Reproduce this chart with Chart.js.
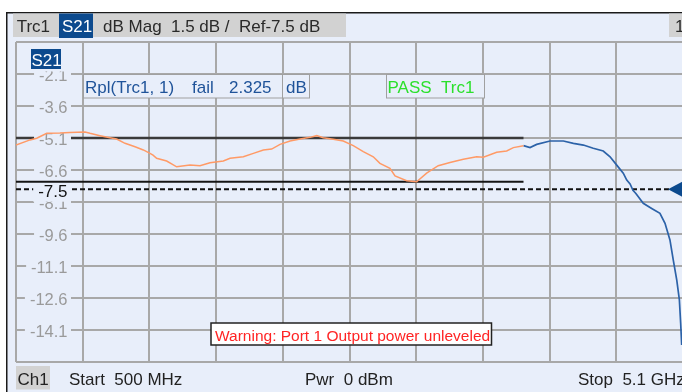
<!DOCTYPE html>
<html>
<head>
<meta charset="utf-8">
<script src="https://cdn.jsdelivr.net/npm/chart.js@4/dist/chart.umd.min.js"></script>
<style>
  html, body { margin: 0; padding: 0; background: #fff; overflow: hidden; }
  #wrap { width: 682px; height: 392px; overflow: hidden; }
  canvas { display: block; }
</style>
</head>
<body>
<div id="wrap"><canvas id="c" width="700" height="392"></canvas></div>
<script>
// S21 trace, dB Mag, 500 MHz .. 5.1 GHz. Inside the ripple range (to 4 GHz) the trace is orange.
const rippleFreqMHz = [500, 597, 643, 712, 803, 872, 976, 1010, 1079, 1148, 1194, 1252, 1321, 1378, 1424, 1445, 1470, 1539, 1608, 1700, 1769, 1838, 1930, 1976, 2068, 2137, 2206, 2263, 2321, 2390, 2459, 2528, 2574, 2619, 2688, 2757, 2826, 2895, 2964, 3010, 3079, 3114, 3194, 3263, 3332, 3412, 3493, 3585, 3677, 3723, 3815, 3884, 3930, 4000];
const rippleDb = [-5.43, -5.19, -5.11, -4.88, -4.87, -4.84, -4.82, -4.88, -4.99, -5.09, -5.15, -5.35, -5.51, -5.66, -5.82, -5.90, -6.05, -6.18, -6.45, -6.37, -6.40, -6.26, -6.18, -6.05, -5.98, -5.82, -5.66, -5.62, -5.40, -5.24, -5.15, -5.07, -4.99, -5.09, -5.16, -5.24, -5.46, -5.74, -5.98, -6.29, -6.52, -6.88, -7.10, -7.15, -6.75, -6.40, -6.25, -6.10, -5.98, -6.00, -5.77, -5.71, -5.55, -5.46];
const outFreqMHz = [4000, 4045, 4091, 4183, 4275, 4344, 4413, 4481, 4550, 4597, 4643, 4688, 4712, 4735, 4755, 4775, 4826, 4884, 4941, 4976, 5010, 5033, 5057, 5075, 5084, 5091];
const outDb = [-5.46, -5.55, -5.40, -5.24, -5.24, -5.35, -5.43, -5.58, -5.71, -5.98, -6.37, -6.75, -7.07, -7.25, -7.55, -7.70, -8.16, -8.40, -8.63, -9.10, -9.88, -10.82, -11.76, -12.69, -13.79, -14.80];

// Limit lines over the ripple range, and the reference level
const limitFreqMHz = [500, 4000];
const upperLimitDb = -5.1;
const lowerLimitDb = -7.15;
const refLevelDb = -7.5;
const sweepMHz = [500, 5100];

// Grid divisions: 460 MHz / div and 1.5 dB / div
const xGridMHz = [500, 960, 1420, 1880, 2340, 2800, 3260, 3720, 4180, 4640, 5100];
const yGridDb = [-0.6, -2.1, -3.6, -5.1, -6.6, -8.1, -9.6, -11.1, -12.6, -14.1, -15.6];
const yTickValues = [-2.1, -3.6, -5.1, -6.6, -8.1, -9.6, -11.1, -12.6, -14.1];
const yTickLabels = ['-2.1', '-3.6', '-5.1', '-6.6', '-8.1', '-9.6', '-11.1', '-12.6', '-14.1'];

// Annotation texts
const headerParts = ['Trc1', 'S21', 'dB Mag', '1.5 dB /', 'Ref-7.5 dB'];
const rippleParts = ['Rpl(Trc1, 1)', 'fail', '2.325', 'dB'];
const passText = 'PASS  Trc1';
const warningText = 'Warning: Port 1 Output power unleveled';
const footerParts = ['Ch1', 'Start  500 MHz', 'Pwr  0 dBm', 'Stop  5.1 GHz'];

const BG = '#E8EEFA';
const GRID = '#A8A8A8';
const NAVY = '#0C4A8E';
const FONT = '"Liberation Sans", Arial, sans-serif';

const pts = (xs, ys) => xs.map((x, i) => ({ x, y: Array.isArray(ys) ? ys[i] : ys }));

function font(px) { return px + 'px ' + FONT; }

function drawAxisLabels(chart) {
  const c = chart.ctx, ys = chart.scales.y;
  const right = 67.5;
  c.save();
  c.textAlign = 'right';
  c.textBaseline = 'alphabetic';
  c.font = font(16.5);
  yTickValues.forEach((v, i) => {
    const py = ys.getPixelForValue(v);
    const w = c.measureText(yTickLabels[i]).width;
    c.fillStyle = BG;
    c.fillRect(right - w - 5, py - 4, w + 8.5, 8);
    c.fillStyle = '#9A9A9A';
    c.fillText(yTickLabels[i], right, py + 6.5);
  });
  // reference level value, black, over the dashed line
  const pr = ys.getPixelForValue(refLevelDb);
  c.font = font(17);
  const lbl = refLevelDb.toFixed(1);
  const w = c.measureText(lbl).width;
  c.fillStyle = BG;
  c.fillRect(right - w - 5, pr - 5, w + 8.5, 17.5);
  c.fillStyle = '#111';
  c.fillText(lbl, right, pr + 7.5);
  // trace name tag in the top-left corner of the grid
  c.fillStyle = BG;
  c.fillRect(26, 44, 47, 27.5);
  c.fillStyle = NAVY;
  c.fillRect(31, 49, 30, 20);
  c.fillStyle = '#fff';
  c.textAlign = 'left';
  c.fillText(headerParts[1], 31.5, 65.5);
  c.restore();
}

const vnaPanel = {
  id: 'vnaPanel',
  beforeDraw(chart) {
    const c = chart.ctx, W = chart.width, H = chart.height;
    c.save();
    c.fillStyle = '#fff';
    c.fillRect(0, 0, W, H);
    c.fillStyle = BG;
    c.fillRect(6, 12, W - 6, H - 12);
    c.strokeStyle = '#1a1a1a';
    c.lineWidth = 1.5;
    c.beginPath();
    c.moveTo(6.75, H); c.lineTo(6.75, 12.75); c.lineTo(W, 12.75);
    c.stroke();
    // header bar
    c.fillStyle = '#D2D2D2';
    c.fillRect(13, 13.5, 333, 23.5);
    c.fillRect(669, 13.5, 40, 23.5);
    c.fillStyle = NAVY;
    c.fillRect(59, 13.5, 34, 24.5);
    c.font = font(17);
    c.textBaseline = 'alphabetic';
    c.textAlign = 'left';
    c.fillStyle = '#2a2a2a';
    c.fillText(headerParts[0], 16.7, 31.5);
    c.fillText(headerParts[2], 103, 31.5);
    c.fillText(headerParts[3], 171, 31.5);
    c.fillText(headerParts[4], 239, 31.5);
    c.fillText('1', 675, 31.5);
    c.fillStyle = '#fff';
    c.fillText(headerParts[1], 62, 31.5);
    c.restore();
  },
  afterDatasetDraw(chart, args) {
    // tick values go above the limit and reference lines but under the trace
    if (args.index === 2) drawAxisLabels(chart);
  },
  afterDatasetsDraw(chart) {
    const c = chart.ctx, ys = chart.scales.y, area = chart.chartArea;
    c.save();
    c.textBaseline = 'alphabetic';
    c.textAlign = 'left';
    // ripple readout
    c.fillStyle = BG;
    c.fillRect(83.5, 74.5, 226, 23.5);
    c.strokeStyle = '#A0A0A0';
    c.lineWidth = 1;
    c.strokeRect(83.5, 74.5, 226, 23.5);
    c.beginPath(); c.moveTo(282.5, 74.5); c.lineTo(282.5, 98); c.stroke();
    c.font = font(17);
    c.fillStyle = '#1F5399';
    c.fillText(rippleParts[0], 85, 93);
    c.fillText(rippleParts[1], 192, 93);
    c.fillText(rippleParts[2], 229, 93);
    c.fillText(rippleParts[3], 286, 93);
    // limit check result
    c.fillStyle = BG;
    c.fillRect(386.5, 74.5, 98, 23.5);
    c.strokeRect(386.5, 74.5, 98, 23.5);
    c.fillStyle = '#2CE02C';
    c.fillText(passText, 387.5, 93.3);
    // warning
    c.fillStyle = '#fff';
    c.fillRect(211, 323, 280.5, 22);
    c.strokeStyle = '#222';
    c.lineWidth = 1.5;
    c.strokeRect(211, 323, 280.5, 22);
    c.font = font(15.5);
    c.fillStyle = '#FF2424';
    c.fillText(warningText, 215, 340.5);
    // reference level marker at the right edge
    const pr = ys.getPixelForValue(refLevelDb);
    c.fillStyle = NAVY;
    c.beginPath();
    c.moveTo(area.right - 15, pr);
    c.lineTo(area.right + 2, pr - 9);
    c.lineTo(area.right + 2, pr + 9);
    c.closePath();
    c.fill();
    // channel bar
    c.fillStyle = '#D2D2D2';
    c.fillRect(16, 366, 34, 23.5);
    c.font = font(17);
    c.fillStyle = '#222';
    c.fillText(footerParts[0], 17.5, 385);
    c.fillText(footerParts[1], 69, 385);
    c.fillText(footerParts[2], 305, 384.5);
    c.fillText(footerParts[3], 578, 385);
    c.restore();
  }
};

new Chart(document.getElementById('c'), {
  type: 'line',
  data: {
    datasets: [
      { data: pts(rippleFreqMHz, rippleDb), borderColor: '#FF9A66', borderWidth: 1.5, order: 0 },
      { data: pts(outFreqMHz, outDb), borderColor: '#2C62A8', borderWidth: 1.7, order: 0 },
      { data: pts(sweepMHz, refLevelDb), borderColor: '#111', borderWidth: 2, borderDash: [5, 3], order: 1 },
      { data: pts(limitFreqMHz, upperLimitDb), borderColor: '#3A3A3A', borderWidth: 2.5, order: 2 },
      { data: pts(limitFreqMHz, lowerLimitDb), borderColor: '#151515', borderWidth: 2, order: 2 }
    ]
  },
  options: {
    responsive: false,
    animation: false,
    devicePixelRatio: 1,
    layout: { padding: { left: 16, top: 42, right: 17, bottom: 30 } },
    elements: { point: { radius: 0 }, line: { tension: 0, fill: false } },
    plugins: { legend: { display: false }, tooltip: { enabled: false } },
    scales: {
      x: {
        type: 'linear', min: sweepMHz[0], max: sweepMHz[1],
        afterBuildTicks: s => { s.ticks = xGridMHz.map(v => ({ value: v })); },
        ticks: { display: false },
        grid: { color: GRID, lineWidth: 2, drawTicks: false },
        border: { display: false }
      },
      y: {
        type: 'linear', min: yGridDb[yGridDb.length - 1], max: yGridDb[0],
        afterBuildTicks: s => { s.ticks = yGridDb.map(v => ({ value: v })); },
        ticks: { display: false },
        grid: { color: GRID, lineWidth: 2, drawTicks: false },
        border: { display: false }
      }
    }
  },
  plugins: [vnaPanel]
});
</script>
</body>
</html>
